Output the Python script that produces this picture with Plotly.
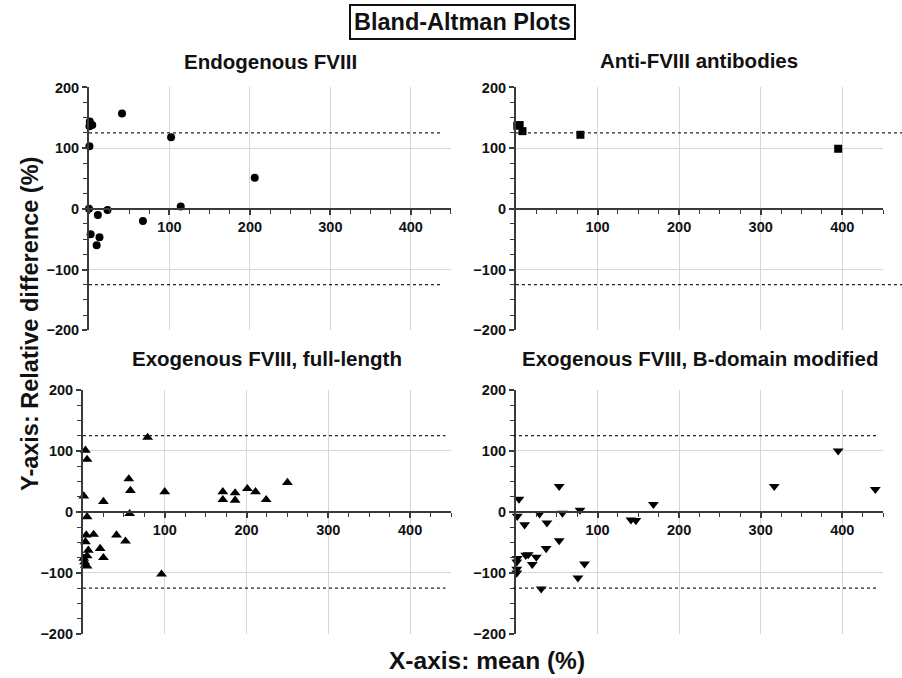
import plotly.graph_objects as go

# ---------------- data ----------------
endo_x = [1, 0.5, 4, 0.5, 41, 102, 206, 114, 0, 23, 11, 67, 2, 13, 9.5]
endo_y = [144, 136, 138, 103, 157, 118, 51, 4, 0, -2, -10, -20, -42, -47, -60]

anti_x = [1.6, 4.5, 8, 79, 395]
anti_y = [137, 138, 128, 122, 99]

full_x = [3, 5, 1, 25, 5, 56, 58, 57, 79, 100, 96, 171, 171, 186, 186, 201, 211, 224, 250,
          4, 13, 41, 52, 3, 21, 6.5, 25, 5, 1, 2, 3, 5]
full_y = [101, 86, 26, 17, -8, 54, 35, -3, 122, 33, -102, 33, 20, 31, 19, 38, 33, 20, 48,
          -38, -37, -38, -48, -49, -60, -63, -75, -72, -76, -82, -88, -89]

bdm_x = [3.7, 1.6, 10.6, 29, 38, 53, 57, 78.5, 53, 37, 25, 15, 12, 20, 1.6, 1, 1, 1, 31, 76, 84,
         141, 147, 168.5, 316.6, 395, 440.5]
bdm_y = [21, -7, -21, -3, -18, 42, -2, 3, -47, -60, -74, -70, -71, -86, -76, -82, -94, -100, -126,
         -108, -85, -13, -14, 12.5, 42, 100, 37]

limits = [125, -125]

panel_titles = ["Endogenous FVIII", "Anti-FVIII antibodies",
                "Exogenous FVIII, full-length", "Exogenous FVIII, B-domain modified"]
x_ticks = [100, 200, 300, 400]
y_ticks = [-200, -100, 0, 100, 200]

main_title = "Bland-Altman Plots"
x_title = "X-axis: mean (%)"
y_title = "Y-axis: Relative difference (%)"

# ---------------- layout ----------------
W, H = 902, 678
FONT = "Liberation Sans, Arial, sans-serif"
AX = "#3a3a3a"
GRID = "#d6d6d6"

xdom = [[0.0987, 0.5], [0.572, 0.979], [0.092, 0.5], [0.572, 0.979]]
ydom = [[0.513, 0.871], [0.513, 0.871], [0.065, 0.425], [0.065, 0.425]]

series = [(endo_x, endo_y, "circle", 8), (anti_x, anti_y, "square", 8),
          (full_x, full_y, "triangle-up", 9.5), (bdm_x, bdm_y, "triangle-down", 9.5)]

fig = go.Figure()
layout = dict(
    width=W, height=H, margin=dict(l=0, r=0, t=0, b=0, pad=0, autoexpand=False),
    paper_bgcolor="white", plot_bgcolor="white", showlegend=False,
    font=dict(family=FONT, color="black"),
)

tickfont = dict(family=FONT, size=14.5, color="#111", weight="bold")

for i, (xs, ys, sym, sz) in enumerate(series):
    n = "" if i == 0 else str(i + 1)
    fig.add_trace(go.Scatter(
        x=xs, y=ys, mode="markers", xaxis="x" + n, yaxis="y" + n,
        marker=dict(symbol=sym, size=sz, color="black", line=dict(width=0)),
        cliponaxis=False, hoverinfo="skip"))
    pos = (ydom[i][0] + ydom[i][1]) / 2
    layout["xaxis" + n] = dict(
        domain=xdom[i], range=[0, 450], anchor="free", position=pos, automargin=False,
        tickmode="array", tickvals=x_ticks, showgrid=True, gridcolor=GRID, gridwidth=1,
        showline=True, linecolor=AX, linewidth=2, zeroline=False,
        ticks="outside", ticklen=5, tickwidth=1.5, tickcolor=AX,
        minor=dict(tickmode="linear", tick0=0, dtick=25, ticks="outside", ticklen=4,
                   tickwidth=1.2, tickcolor=AX, showgrid=False),
        tickfont=tickfont, fixedrange=True)
    layout["yaxis" + n] = dict(
        domain=ydom[i], range=[-200, 200], anchor="x" + n, automargin=False,
        tickmode="array", tickvals=y_ticks, showgrid=True, gridcolor=GRID, gridwidth=1,
        showline=True, linecolor=AX, linewidth=2, zeroline=False,
        ticks="outside", ticklen=5, tickwidth=1.5, tickcolor=AX,
        minor=dict(tickmode="linear", tick0=-200, dtick=25, ticks="outside", ticklen=4,
                   tickwidth=1.2, tickcolor=AX, showgrid=False),
        tickfont=tickfont, fixedrange=True)

fig.update_layout(**layout)

# dashed limit lines
dash_extent = [("x domain", 0.0, 0.978), ("paper", 0.572, 1.0),
               ("x domain", 0.0, 0.985), ("x domain", -0.008, 0.985)]
shapes = []
for i in range(4):
    n = "" if i == 0 else str(i + 1)
    ref, a, b = dash_extent[i]
    xref = ("x" + n + " domain") if ref == "x domain" else "paper"
    for lim in limits:
        shapes.append(dict(type="line", xref=xref, yref="y" + n, x0=a, x1=b, y0=lim, y1=lim,
                           line=dict(color="#222", width=1.3, dash="3px,3px"), layer="above"))
fig.update_layout(shapes=shapes)

annotations = []
title_pos = [(270, 62), (699, 60), (267, 358), (700, 358)]
for t, (px, py) in zip(panel_titles, title_pos):
    annotations.append(dict(text=t, x=px / W, y=1 - py / H, xref="paper", yref="paper",
                            showarrow=False, xanchor="center", yanchor="middle",
                            font=dict(family=FONT, size=20.5, color="#111", weight="bold")))
annotations.append(dict(text=main_title, x=462 / W, y=1 - 21.5 / H, xref="paper", yref="paper",
                        showarrow=False, xanchor="center", yanchor="middle",
                        bordercolor="#111", borderwidth=2, borderpad=3, bgcolor="white",
                        font=dict(family=FONT, size=23.5, color="#111", weight="bold")))
annotations.append(dict(text=x_title, x=487 / W, y=1 - 660 / H, xref="paper", yref="paper",
                        showarrow=False, xanchor="center", yanchor="middle",
                        font=dict(family=FONT, size=24.5, color="#111", weight="bold")))
annotations.append(dict(text=y_title, x=30 / W, y=1 - 324 / H, xref="paper", yref="paper",
                        showarrow=False, xanchor="center", yanchor="middle", textangle=-90,
                        font=dict(family=FONT, size=23.5, color="#111", weight="bold")))
fig.update_layout(annotations=annotations)

fig.write_html("out.html", config={"displayModeBar": False},
               post_script="document.body.style.margin='0';document.body.style.overflow='hidden';")
